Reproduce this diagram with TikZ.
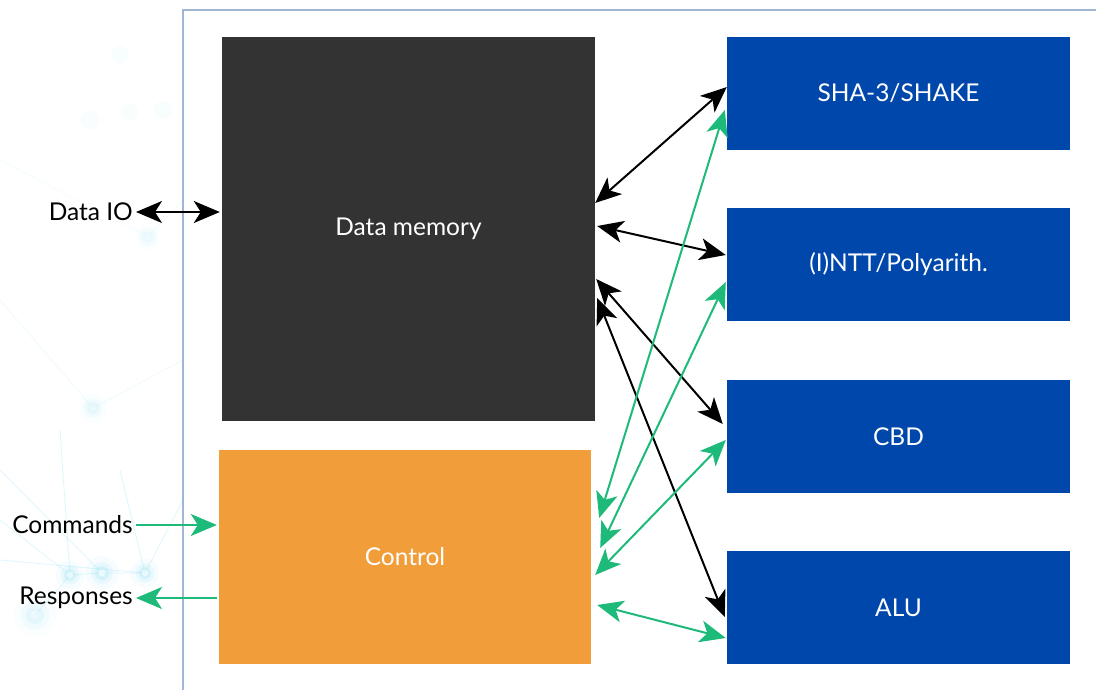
\documentclass[tikz,border=0pt]{standalone}
\usepackage{fontspec}
\setmainfont{Lato}
\usetikzlibrary{arrows.meta}

\definecolor{memgray}{RGB}{51,51,51}
\definecolor{ctrlorange}{RGB}{240,157,58}
\definecolor{unitblue}{RGB}{0,71,171}
\definecolor{busgreen}{RGB}{30,186,122}
\definecolor{panelline}{RGB}{160,182,214}
\definecolor{glow}{RGB}{120,215,240}

\tikzset{
  block/.style={draw=none, minimum width=#1, inner sep=0pt, text=white,
    font=\fontsize{24.5}{28}\selectfont},
  unit/.style={block=343pt, fill=unitblue, minimum height=113pt},
  sidelabel/.style={inner sep=0pt, font=\fontsize{24.5}{28}\selectfont, text=black},
  bus/.style={line width=2pt, -{Stealth[length=26pt,width=22pt,inset=7pt]}},
  dbus/.style={line width=2pt, {Stealth[length=26pt,width=22pt,inset=7pt]}-{Stealth[length=26pt,width=22pt,inset=7pt]}},
  databus/.style={dbus, draw=black},
  ctrlbus/.style={dbus, draw=busgreen, fill=busgreen},
  cmdbus/.style={bus, draw=busgreen, fill=busgreen},
  netline/.style={draw=glow, opacity=0.22, line width=0.9pt},
}

\newcommand{\glowdot}[3]{%
  \fill[glow, opacity=0.06*#3] (#1) circle (#2*2.4);
  \fill[glow, opacity=0.12*#3] (#1) circle (#2*1.6);
  \fill[glow!60, opacity=0.35*#3] (#1) circle (#2);
  \fill[white, opacity=0.6*#3] (#1) circle (#2*0.5);
}

\begin{document}
\begin{tikzpicture}[x=1pt, y=-1pt]
  \useasboundingbox (0,0) rectangle (1096,689);

  % faint network pattern in the left margin
  \begin{scope}
    \clip (0,0) rectangle (183,689);
    \draw[netline] (0,520) -- (70,575) -- (102,573) -- (145,573);
    \draw[netline] (0,470) -- (102,573);
    \draw[netline] (60,430) -- (70,575);
    \draw[netline] (120,470) -- (145,573) -- (183,500);
    \draw[netline] (0,560) -- (145,573);
    \draw[netline] (35,615) -- (70,575);
    \draw[netline, opacity=0.12] (0,300) -- (93,408) -- (183,360);
    \draw[netline, opacity=0.08] (0,160) -- (148,237) -- (183,200);
    \glowdot{70,575}{6pt}{1}
    \glowdot{102,573}{7pt}{1}
    \glowdot{145,573}{6pt}{1}
    \glowdot{35,615}{9pt}{0.6}
    \glowdot{93,408}{6pt}{0.6}
    \glowdot{148,237}{6pt}{0.4}
    \fill[glow, opacity=0.05] (120,55) circle (9pt);
    \fill[glow, opacity=0.05] (163,110) circle (9pt);
    \fill[glow, opacity=0.05] (130,112) circle (8pt);
    \fill[glow, opacity=0.04] (90,120) circle (10pt);
  \end{scope}

  % white panel holding the datapath
  \fill[white] (183,10) rectangle (1100,695);
  \draw[panelline, line width=1.4pt] (183,695) -- (183,10) -- (1100,10);

  % blocks
  \node[block=373pt, fill=memgray, minimum height=384pt] (mem) at (408.5,229) {Data memory};
  \node[block=372pt, fill=ctrlorange, minimum height=214pt] (ctrl) at (405,557) {Control};
  \node[unit] (sha) at (898.5,93.5) {SHA-3/SHAKE};
  \node[unit] (ntt) at (898.5,264.5) {(I)NTT/Polyarith.};
  \node[unit] (cbd) at (898.5,436.5) {CBD};
  \node[unit] (alu) at (898.5,607.5) {ALU};

  % external interface labels (vertically centred on their ports)
  \node[sidelabel, anchor=east] (dio) at (133,212) {Data IO};
  \node[sidelabel, anchor=east] (cmd) at (133,525) {Commands};
  \node[sidelabel, anchor=east] (rsp) at (133,598) {Responses};

  % external connections
  \draw[databus] ([xshift=3pt]dio.east) -- ([xshift=-2pt,yshift=17pt]mem.west);
  \draw[cmdbus] ([xshift=3pt]cmd.east) -- ([xshift=-2pt,yshift=32pt]ctrl.west);
  \draw[cmdbus] ([xshift=-2pt,yshift=-41pt]ctrl.west) -- ([xshift=3pt]rsp.east);

  % data paths between memory and units
  \draw[databus] ([yshift=26pt]mem.east) -- ([yshift=6.5pt]sha.west);
  \draw[databus] ([xshift=2pt,yshift=3pt]mem.east) -- ([xshift=-1pt,yshift=9.5pt]ntt.west);
  \draw[databus] ([xshift=1pt,yshift=-50pt]mem.east) -- ([xshift=-4pt,yshift=12.5pt]cbd.west);
  \draw[databus] ([xshift=2pt,yshift=-69pt]mem.east) -- ([xshift=-2pt,yshift=-9.5pt]alu.west);

  % control paths between control and units
  \draw[ctrlbus] ([xshift=8pt,yshift=39pt]ctrl.east) -- ([xshift=-2pt,yshift=-16.5pt]sha.west);
  \draw[ctrlbus] ([xshift=9pt,yshift=9pt]ctrl.east) -- ([xshift=-1pt,yshift=-17.5pt]ntt.west);
  \draw[ctrlbus] ([xshift=4pt,yshift=-18pt]ctrl.east) -- ([xshift=-1pt,yshift=-3.5pt]cbd.west);
  \draw[ctrlbus] ([xshift=6pt,yshift=-48pt]ctrl.east) -- ([xshift=-1pt,yshift=-30.5pt]alu.west);
\end{tikzpicture}
\end{document}
